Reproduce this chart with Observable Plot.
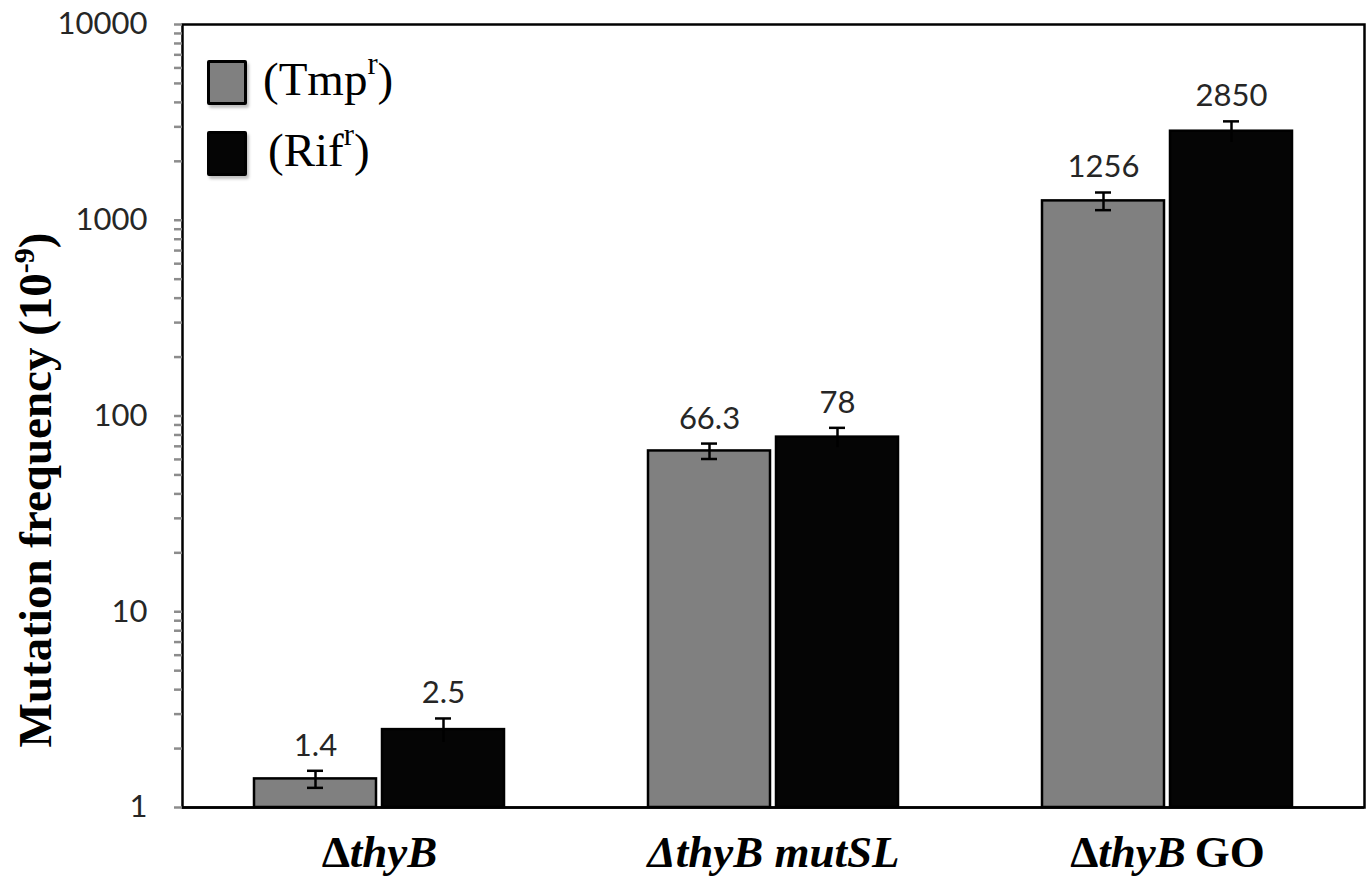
<!DOCTYPE html>
<html>
<head>
<meta charset="utf-8">
<script src="https://cdn.jsdelivr.net/npm/d3@7"></script>
<script src="https://cdn.jsdelivr.net/npm/@observablehq/plot@0.6"></script>
<style>
  body { margin: 0; background: #fff; }
  #wrap { position: relative; width: 1367px; height: 884px; overflow: hidden; }
  .lg-box { position: absolute; width: 34px; height: 39px; border: 3px solid #000; border-radius: 2px; box-shadow: 2px 3px 3px rgba(0,0,0,0.25); }
  .lg-text { position: absolute; font-family: "Liberation Serif", serif; font-size: 47px; line-height: 47px; color: #000; white-space: nowrap; }
  .lg-text .sup { font-size: 0.65em; position: relative; top: -0.7em; }
</style>
</head>
<body>
<div id="wrap"></div>
<script>
// ---- data ----
const groups = ["ΔthyB", "ΔthyB mutSL", "ΔthyB GO"];
const tmpValues = [1.4, 66.3, 1256];
const tmpErrors = [0.14, 6, 130];
const rifValues = [2.5, 78, 2850];
const rifErrors = [0.35, 9, 350];
const seriesNames = ["Tmp", "Rif"];
const seriesColors = ["#808080", "#050505"];
const yTicks = [1, 10, 100, 1000, 10000];
const minorMultipliers = [2, 3, 4, 5, 6, 7, 8, 9];
// label styling parts: [text, italic?]
const labelParts = [
  [["Δ", false], ["thyB", true]],
  [["ΔthyB mutSL", true]],
  [["Δ", false], ["thyB", true], ["\u2009GO", false]]
];

const tmp = groups.map((g, i) => ({group: g, series: seriesNames[0], value: tmpValues[i], err: tmpErrors[i]}));
const rif = groups.map((g, i) => ({group: g, series: seriesNames[1], value: rifValues[i], err: rifErrors[i]}));
const minorTicks = yTicks.slice(0, -1).flatMap(t => minorMultipliers.map(m => t * m));

const BAR_INSET = 128;   // each bar takes one side of the group band
const OFF = 64;          // offset of each bar centre from group centre
const lo = d => d.value - d.err, hi = d => d.value + d.err;

const plot = Plot.plot({
  width: 1367,
  height: 884,
  marginLeft: 182,
  marginRight: 3,
  marginTop: 24,
  marginBottom: 77,
  x: {domain: groups, paddingInner: 0.3655, paddingOuter: 0.18275, axis: null},
  y: {type: "log", domain: [1, 10000], axis: null},
  style: {fontFamily: "Lato, sans-serif", fontSize: "31px", background: "#fff", color: "#000"},
  marks: [
    Plot.frame({stroke: "#000", strokeWidth: 2.5}),
    // bars
    Plot.barY(tmp, {x: "group", y1: () => 1, y2: "value", fill: seriesColors[0], stroke: "#000", strokeWidth: 2.5, insetRight: BAR_INSET}),
    Plot.barY(rif, {x: "group", y1: () => 1, y2: "value", fill: seriesColors[1], stroke: "#000", strokeWidth: 2.5, insetLeft: BAR_INSET}),
    // error bars
    Plot.ruleX(tmp, {x: "group", y1: lo, y2: hi, dx: -OFF, stroke: "#000", strokeWidth: 2.5}),
    Plot.ruleX(rif, {x: "group", y1: lo, y2: hi, dx: OFF, stroke: "#000", strokeWidth: 2.5}),
    Plot.tickY(tmp, {x: "group", y: hi, insetLeft: 53, insetRight: 181, stroke: "#000", strokeWidth: 2.5}),
    Plot.tickY(tmp, {x: "group", y: lo, insetLeft: 53, insetRight: 181, stroke: "#000", strokeWidth: 2.5}),
    Plot.tickY(rif, {x: "group", y: hi, insetLeft: 181, insetRight: 53, stroke: "#000", strokeWidth: 2.5}),
    // value labels
    Plot.text(tmp, {x: "group", y: hi, text: d => String(d.value), dx: -OFF, dy: -15, lineAnchor: "bottom", fontSize: 31, fill: "#262626"}),
    Plot.text(rif, {x: "group", y: hi, text: d => String(d.value), dx: OFF, dy: -15, lineAnchor: "bottom", fontSize: 31, fill: "#262626"}),
    // y axis
    Plot.axisY(minorTicks, {tickSize: 8, tickFormat: () => "", stroke: "#8c8c8c", strokeWidth: 2.5, label: null}),
    Plot.axisY(yTicks, {tickSize: 8, tickPadding: 27, tickFormat: d => String(d), stroke: "#8c8c8c", strokeWidth: 2.5, fill: "#262626", fontSize: 31, label: null, line: true}),
    // x axis labels
    Plot.axisX(groups, {tickSize: 0, tickPadding: 28, fontSize: 45, fontWeight: "bold", fontFamily: "Liberation Serif, serif", fill: "#000", label: null}),
    Plot.ruleY([1], {stroke: "#000", strokeWidth: 2.5})
  ]
});

const svg = d3.select(plot);

// rich x labels
svg.selectAll('g[aria-label="x-axis tick label"] text').each(function() {
  const t = d3.select(this);
  const idx = groups.indexOf(t.text());
  if (idx < 0) return;
  t.text(null);
  labelParts[idx].forEach(([s, it]) => t.append("tspan").attr("font-style", it ? "italic" : "normal").text(s));
});

// y axis title
const yt = svg.append("text")
  .attr("transform", "translate(51,490) rotate(-90)")
  .attr("text-anchor", "middle")
  .attr("font-family", "Liberation Serif, serif")
  .attr("font-weight", "bold")
  .attr("font-size", 47)
  .attr("fill", "#000");
yt.append("tspan").text("Mutation frequency (10");
yt.append("tspan").attr("font-size", 30).attr("dy", -17).text("-9");
yt.append("tspan").attr("dy", 17).text(")");

const wrap = document.getElementById("wrap");
wrap.appendChild(plot);

// legend (HTML overlay)
const legendRows = [
  {name: seriesNames[0], color: seriesColors[0], boxTop: 60, textLeft: 263, textTop: 56},
  {name: seriesNames[1], color: seriesColors[1], boxTop: 131, textLeft: 268, textTop: 127}
];
legendRows.forEach(r => {
  const b = document.createElement("div");
  b.className = "lg-box";
  b.style.left = "207px";
  b.style.top = r.boxTop + "px";
  b.style.background = r.color;
  wrap.appendChild(b);
  const t = document.createElement("div");
  t.className = "lg-text";
  t.style.left = r.textLeft + "px";
  t.style.top = r.textTop + "px";
  t.innerHTML = "(" + r.name + '<span class="sup">r</span>)';
  wrap.appendChild(t);
});
</script>
</body>
</html>
